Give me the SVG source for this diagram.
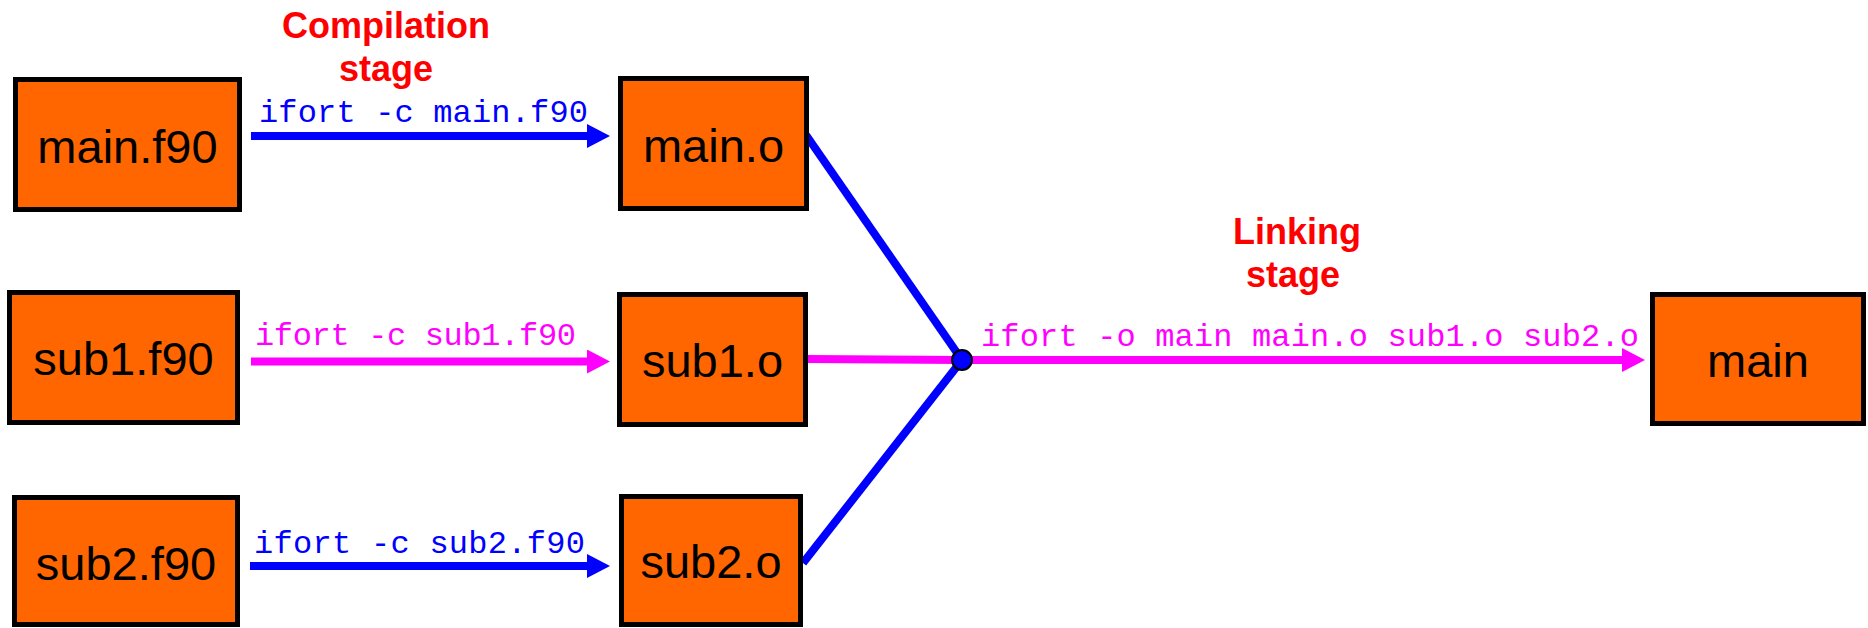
<svg xmlns="http://www.w3.org/2000/svg" width="1868" height="628" viewBox="0 0 1868 628">
<style>
.box{fill:#FF6600;stroke:#000;stroke-width:5}
.lbl{font-family:"Liberation Sans",Arial,sans-serif;font-size:47px;fill:#000;text-anchor:middle}
.cmd{font-family:"Liberation Mono","Courier New",monospace;font-size:32px;text-anchor:middle}
.title{font-family:"Liberation Sans",Arial,sans-serif;font-size:36px;font-weight:bold;fill:#FF0000;text-anchor:middle}
.blue{stroke:#0000FF;stroke-width:8;fill:none}
.mag{stroke:#FF00FF;stroke-width:8;fill:none}
</style>
<defs>
<marker id="ab" markerUnits="userSpaceOnUse" markerWidth="24" markerHeight="24" viewBox="0 0 24 24" refX="3" refY="12" orient="auto"><path d="M0,0 L23,12 L0,24 z" fill="#0000FF"/></marker>
<marker id="am" markerUnits="userSpaceOnUse" markerWidth="24" markerHeight="24" viewBox="0 0 24 24" refX="3" refY="12" orient="auto"><path d="M0,0 L23,12 L0,24 z" fill="#FF00FF"/></marker>
</defs>
<g id="titles">
<text class="title" x="386" y="38">Compilation</text>
<text class="title" x="386" y="81">stage</text>
<text class="title" x="1297" y="244">Linking</text>
<text class="title" x="1293" y="287">stage</text>
</g>
<g id="connectors">
<line class="blue" x1="251" y1="136" x2="590" y2="136" marker-end="url(#ab)"/>
<line class="mag" x1="251" y1="361.5" x2="590" y2="361.5" marker-end="url(#am)"/>
<line class="blue" x1="250" y1="566" x2="590" y2="566" marker-end="url(#ab)"/>
<line class="blue" x1="806" y1="135" x2="962" y2="360"/>
<line class="blue" x1="803" y1="563" x2="962" y2="360"/>
<line class="mag" x1="808" y1="359" x2="962" y2="360"/>
<line class="mag" x1="962" y1="360" x2="1625" y2="360" marker-end="url(#am)"/>
<circle cx="962" cy="360" r="10" fill="#0000FF" stroke="#000" stroke-width="2"/>
<text class="cmd" x="423.5" y="122" fill="#0000FF" textLength="329">ifort -c main.f90</text>
<text class="cmd" x="415.5" y="345" fill="#FF00FF" textLength="321">ifort -c sub1.f90</text>
<text class="cmd" x="419.5" y="553" fill="#0000FF" textLength="331">ifort -c sub2.f90</text>
<text class="cmd" x="1310" y="346" fill="#FF00FF" textLength="658">ifort -o main main.o sub1.o sub2.o</text>
</g>
<g id="main_f90"><rect class="box" x="15.5" y="79.5" width="224" height="130"/><text class="lbl" x="127.5" y="163">main.f90</text></g>
<g id="sub1_f90"><rect class="box" x="9.5" y="292.5" width="228" height="130"/><text class="lbl" x="123.5" y="375">sub1.f90</text></g>
<g id="sub2_f90"><rect class="box" x="14.5" y="497.5" width="223" height="127"/><text class="lbl" x="126" y="580">sub2.f90</text></g>
<g id="main_o"><rect class="box" x="620.5" y="78.5" width="186" height="130"/><text class="lbl" x="713.5" y="162">main.o</text></g>
<g id="sub1_o"><rect class="box" x="619.5" y="294.5" width="186" height="130"/><text class="lbl" x="712.5" y="377">sub1.o</text></g>
<g id="sub2_o"><rect class="box" x="621.5" y="496.5" width="179" height="128"/><text class="lbl" x="711" y="578">sub2.o</text></g>
<g id="main"><rect class="box" x="1652.5" y="294.5" width="211" height="129"/><text class="lbl" x="1758" y="377">main</text></g>
</svg>
